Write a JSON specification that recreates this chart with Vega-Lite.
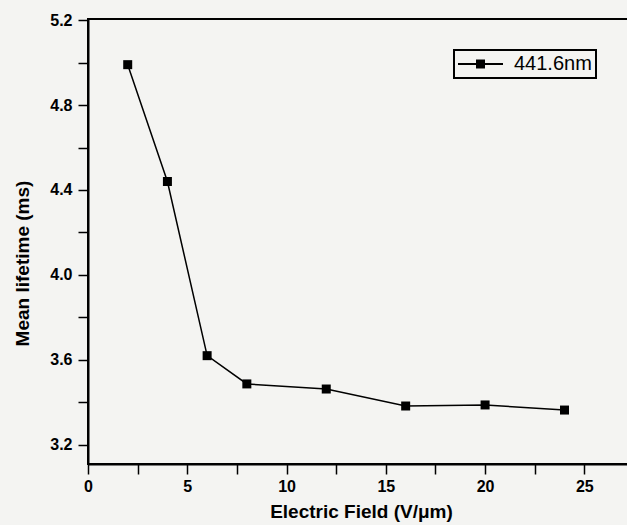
{
  "$schema": "https://vega.github.io/schema/vega-lite/v6.json",
  "autosize": {"type": "none"},
  "padding": {"left": 88, "top": 19, "right": 0, "bottom": 61},
  "width": 546,
  "height": 445,
  "background": "#f4f4f2",
  "config": {
    "view": {"stroke": "black", "strokeWidth": 2},
    "legend": {"strokeWidth": 2},
    "axis": {
      "grid": false,
      "domainColor": "black",
      "domainWidth": 2,
      "tickColor": "black",
      "tickWidth": 1.5,
      "tickSize": 10,
      "labelFont": "Liberation Sans",
      "labelFontWeight": "bold",
      "labelFontSize": 16,
      "labelColor": "black",
      "titleFont": "Liberation Sans",
      "titleFontWeight": "bold",
      "titleFontSize": 19,
      "titleColor": "black"
    }
  },
  "data": {
    "values": [
      {"efield": 2, "lifetime": 4.99, "series": "441.6nm"},
      {"efield": 4, "lifetime": 4.44, "series": "441.6nm"},
      {"efield": 6, "lifetime": 3.62, "series": "441.6nm"},
      {"efield": 8, "lifetime": 3.487, "series": "441.6nm"},
      {"efield": 12, "lifetime": 3.463, "series": "441.6nm"},
      {"efield": 16, "lifetime": 3.383, "series": "441.6nm"},
      {"efield": 20, "lifetime": 3.388, "series": "441.6nm"},
      {"efield": 24, "lifetime": 3.364, "series": "441.6nm"}
    ]
  },
  "encoding": {
    "x": {
      "field": "efield", "type": "quantitative",
      "scale": {"domain": [0, 27.5], "nice": false, "zero": false},
      "axis": {
        "title": "Electric Field (V/\u03bcm)",
        "values": [0, 2.5, 5, 7.5, 10, 12.5, 15, 17.5, 20, 22.5, 25, 27.5],
        "labelExpr": "datum.value % 5 === 0 ? datum.label : ''",
        "encode": {"ticks": {"update": {"y2": {"signal": "datum.value % 5 === 0 ? 10 : 5"}}}},
        "labelPadding": 4,
        "titlePadding": 8,
        "labelFlush": false,
        "labelOverlap": false
      }
    },
    "y": {
      "field": "lifetime", "type": "quantitative",
      "scale": {"domain": [3.11, 5.205], "nice": false, "zero": false},
      "axis": {
        "title": "Mean lifetime (ms)",
        "values": [3.2, 3.4, 3.6, 3.8, 4.0, 4.2, 4.4, 4.6, 4.8, 5.0, 5.2],
        "format": ".1f",
        "labelExpr": "round(datum.value * 10) % 4 === 0 ? datum.label : ''",
        "encode": {"ticks": {"update": {"x2": {"signal": "round(datum.value * 10) % 4 === 0 ? -10 : -4"}}}},
        "labelPadding": 6,
        "titleX": -56,
        "titleY": 244,
        "titleBaseline": "bottom",
        "labelFlush": false,
        "labelOverlap": false
      }
    }
  },
  "layer": [
    {
      "mark": {"type": "line", "color": "black", "strokeWidth": 1.5}
    },
    {
      "mark": {"type": "point", "shape": "square", "filled": true, "size": 81, "opacity": 1},
      "encoding": {
        "color": {
          "field": "series", "type": "nominal",
          "scale": {"range": ["black"]},
          "legend": {
            "title": null,
            "orient": "none",
            "legendX": 366,
            "legendY": 31,
            "symbolType": "M-1,-0.1H3.5V0.1H-1Z M0.8,-0.45H1.7V0.45H0.8Z",
            "symbolSize": 400,
            "symbolStrokeWidth": 0,
            "symbolOpacity": 1,
            "labelOffset": 36,
            "labelFont": "Liberation Sans",
            "labelFontSize": 20,
            "labelColor": "black",
            "strokeColor": "black",
            "fillColor": "#f4f4f2",
            "padding": 4
          }
        }
      }
    }
  ]
}
